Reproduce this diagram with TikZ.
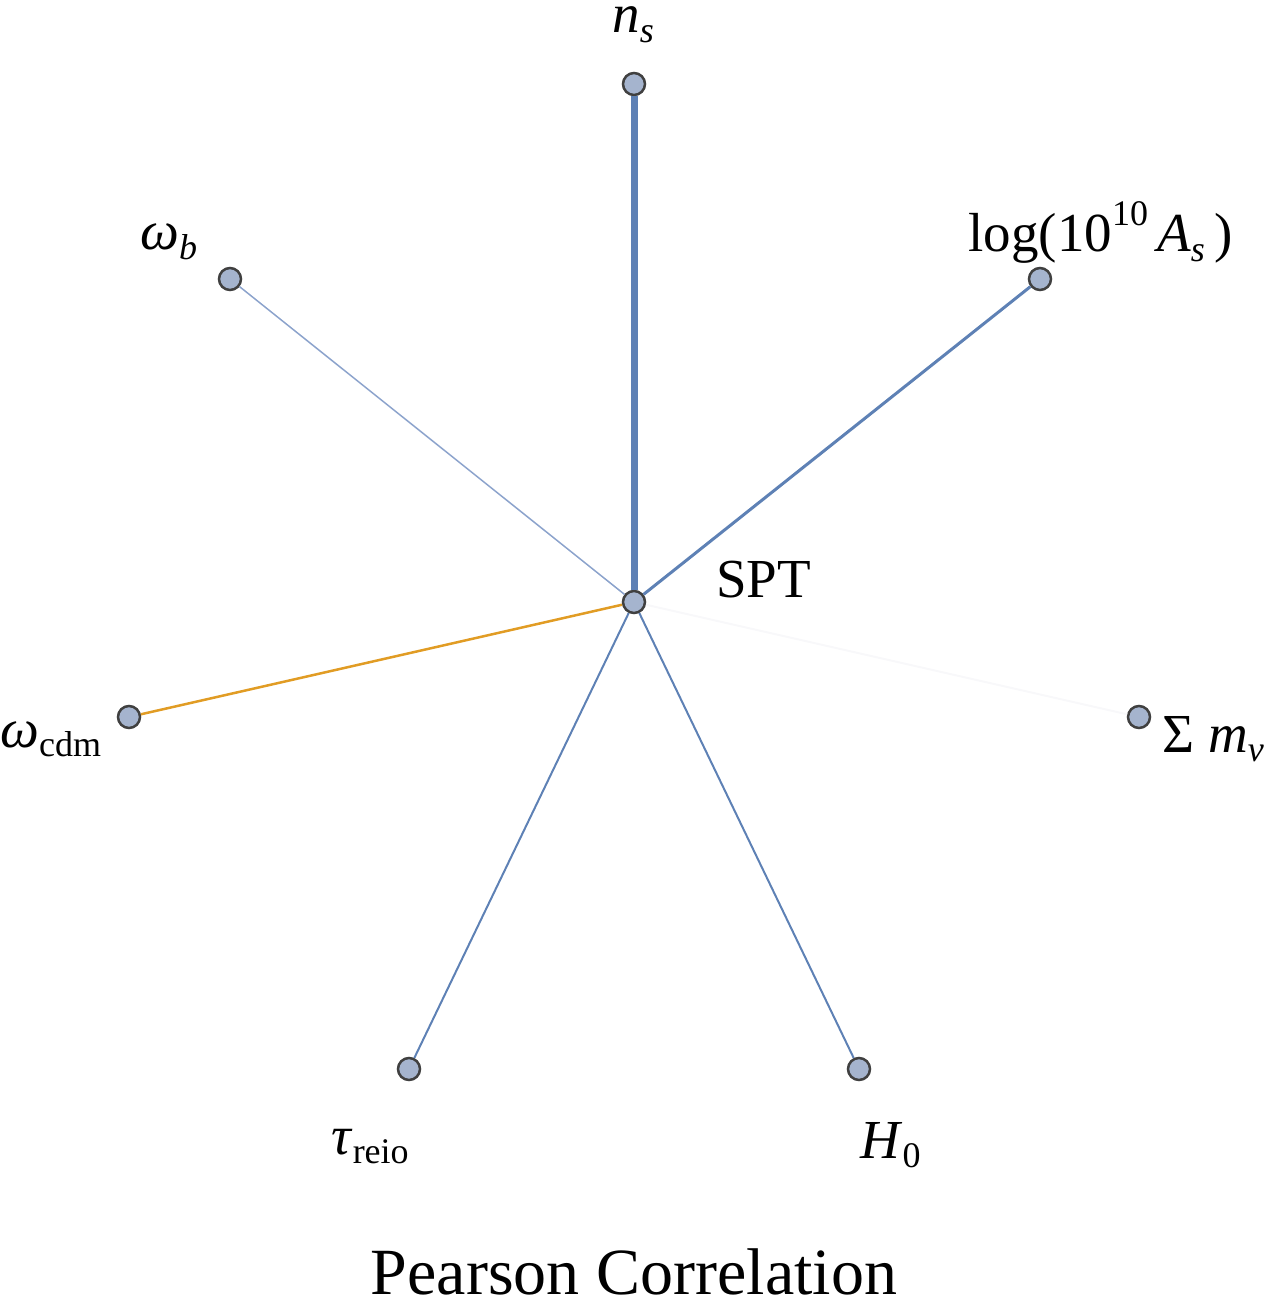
\documentclass[tikz,border=0pt]{standalone}
\usepackage{fontspec}
\setmainfont{Liberation Serif}
\definecolor{nodefill}{RGB}{165,180,206}
\definecolor{nodeline}{RGB}{64,64,64}
\definecolor{mblue}{RGB}{94,129,181}
\definecolor{mlblue}{RGB}{140,163,204}
\definecolor{morange}{RGB}{225,156,36}
\definecolor{mfaint}{RGB}{248,248,250}
\newcommand\lsub[1]{\raisebox{-0.18em}{\fontsize{18}{18}\selectfont #1}}
\newcommand\lsup[1]{\raisebox{0.49em}{\fontsize{18}{18}\selectfont #1}}
\begin{document}
\begin{tikzpicture}[x=0.5pt,y=-0.5pt,
  vert/.style={circle,draw=nodeline,fill=nodefill,line width=1.25pt,minimum size=11pt,inner sep=0pt},
  lab/.style={anchor=base west,inner sep=0pt,font=\fontsize{27.5}{30}\selectfont},
  edgeline/.style={draw=mblue,line width=1pt}]
\useasboundingbox (0,0) rectangle (1269,1299);
\node[vert] (spt) at (634,602) {};
\node[vert] (ns) at (634,84) {};
\node[vert] (as) at (1040,279) {};
\node[vert] (wb) at (230,279) {};
\node[vert] (wc) at (129,717) {};
\node[vert] (mn) at (1139,717) {};
\node[vert] (tr) at (409,1069) {};
\node[vert] (h0) at (859,1069) {};
\draw[draw=mfaint,line width=1pt] (spt) -- (mn);
\draw[edgeline,line width=3.5pt] (spt) -- (ns);
\draw[edgeline,line width=1.5pt] (spt) -- (as);
\draw[draw=mlblue,line width=0.75pt] (spt) -- (wb);
\draw[draw=morange,line width=1.25pt] (spt) -- (wc);
\draw[edgeline] (spt) -- (tr);
\draw[edgeline] (spt) -- (h0);
\node[lab,text height=0.5em] (lns) at (612,33) {\textit{n}\lsub{\textit{s}}};
\node[lab] (lwb) at (140,250) {\textit{ω}\lsub{\textit{b}}};
\node[lab] (las) at (968,252) {log(10\lsup{10}\,\textit{A}\lsub{\textit{s}}\,)};
\node[lab] (lspt) at (716,597) {SPT};
\node[lab] (lwc) at (0,747) {\textit{ω}\lsub{cdm}};
\node[lab] (lmn) at (1162,752) {Σ \textit{m}\lsub{\textit{ν}}};
\node[lab] (ltr) at (331,1154) {\textit{τ}\lsub{reio}};
\node[lab] (lh0) at (860,1158) {\textit{H}\lsub{0}};
\node[anchor=base,inner sep=0pt,text depth=0pt,font=\fontsize{33}{36}\selectfont] (title) at (634,1294) {Pearson Correlation};
\end{tikzpicture}
\end{document}
